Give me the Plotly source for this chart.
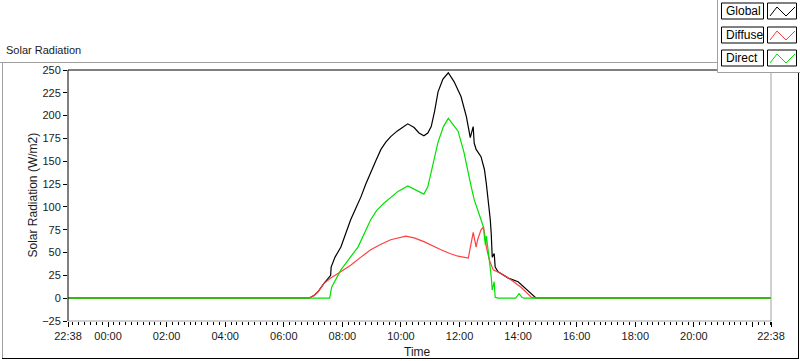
import plotly.graph_objects as go

# ---- data ----
DAY0 = "2024-01-01"
DAY1 = "2024-01-02"

global_times = ["06:51", "07:02", "07:10", "07:22", "07:36", "07:37", "07:45", "07:57", "08:07", "08:17",
                "08:28", "08:38", "08:48", "08:58", "09:09", "09:19", "09:29", "09:39", "09:52", "10:06",
                "10:14", "10:27", "10:37", "10:47", "10:55", "11:02", "11:09", "11:16", "11:26", "11:37",
                "11:49", "12:03", "12:14", "12:22", "12:28", "12:30", "12:34", "12:44", "12:51", "12:55",
                "12:59", "13:03", "13:05", "13:07", "13:11", "13:13", "13:19", "13:40", "14:00", "14:04",
                "14:21", "14:37", "14:44"]
global_vals = [0, 3, 7, 16, 25, 34, 45, 56, 72, 86,
               99, 111, 125, 138, 151, 163, 171, 177, 183, 188,
               191, 187, 181, 178, 181, 188, 205, 226, 240, 247,
               237, 221, 199, 176, 188, 170, 163, 155, 141, 125,
               108, 86, 70, 45, 49, 34, 29, 22, 18, 16,
               7, 0, 0]

diffuse_times = ["06:51", "07:02", "07:10", "07:22", "07:36", "07:51", "08:17", "08:38", "08:58", "09:19",
                 "09:39", "10:10", "10:27", "10:47", "11:05", "11:22", "11:40", "11:57", "12:18", "12:28",
                 "12:34", "12:37", "12:44", "12:49", "12:51", "12:55", "13:01", "13:09", "13:25", "13:46",
                 "14:06", "14:27", "14:37"]
diffuse_vals = [0, 3, 7, 16, 22, 27, 36, 45, 53, 59,
                64, 68, 66, 62, 57, 53, 49, 46, 44, 72,
                56, 64, 75, 78, 72, 56, 42, 31, 27, 20,
                12, 1, 0]

direct_times = ["07:34", "07:38", "07:57", "08:15", "08:32", "08:58", "09:10", "09:25", "09:54", "10:14",
                "10:35", "10:47", "10:55", "11:02", "11:16", "11:27", "11:37", "11:57", "12:09", "12:24",
                "12:30", "12:44", "12:49", "12:51", "12:53", "12:55", "12:59", "13:01", "13:05", "13:07",
                "13:11", "13:13", "13:19", "13:55", "14:02", "14:08", "14:12"]
direct_vals = [0, 12, 31, 44, 56, 86, 96, 104, 117, 123,
               117, 114, 122, 138, 171, 188, 197, 183, 160, 122,
               108, 86, 78, 67, 58, 68, 53, 42, 23, 9,
               18, 1, 0, 0, 5, 1, 0]

x_tick_vals = ["22:38", "00:00", "02:00", "04:00", "06:00", "08:00", "10:00", "12:00",
               "14:00", "16:00", "18:00", "20:00", "22:00", "22:38"]
x_tick_text = ["22:38", "00:00", "02:00", "04:00", "06:00", "08:00", "10:00", "12:00",
               "14:00", "16:00", "18:00", "20:00", "", "22:38"]
y_tick_vals = [-25, 0, 25, 50, 75, 100, 125, 150, 175, 200, 225, 250]

START = DAY0 + " 22:38"
END = DAY1 + " 22:38"


def full(times, vals):
    xs = [START] + [DAY1 + " " + t for t in times] + [END]
    ys = [0] + list(vals) + [0]
    return xs, ys


tick_dates = [START] + [DAY1 + " " + t for t in x_tick_vals[1:-1]] + [END]

FONT = "Liberation Sans"
TXT = "#1a1a1a"
fig = go.Figure()
for name, times, vals, color in [("Global", global_times, global_vals, "#000000"),
                                 ("Diffuse", diffuse_times, diffuse_vals, "#ff4040"),
                                 ("Direct", direct_times, direct_vals, "#00e000")]:
    xs, ys = full(times, vals)
    fig.add_trace(go.Scatter(x=xs, y=ys, mode="lines", name=name,
                             line=dict(color=color, width=1.2, shape="linear"),
                             showlegend=False, hoverinfo="skip"))

L, R, T, B = 68, 771, 70, 321
W, H = 800, 361
pw, ph = R - L, B - T


def px(xp):
    return (xp - L) / pw


def py(yp):
    return (B - yp) / ph


fig.update_layout(
    width=W, height=H,
    margin=dict(l=L, r=W - R, t=T, b=H - B, pad=0),
    paper_bgcolor="white", plot_bgcolor="white",
    font=dict(family=FONT, size=11, color=TXT),
    xaxis=dict(type="date", range=[START, END], showgrid=False, zeroline=False,
               tickmode="array", tickvals=tick_dates, ticktext=x_tick_text,
               ticks="outside", ticklen=5, tickcolor="black", tickwidth=1,
               minor=dict(dtick=12 * 60 * 1000, tick0=DAY1 + " 00:00", ticks="outside",
                          ticklen=3, tickcolor="black", tickwidth=1, showgrid=False),
               showline=False, tickfont=dict(size=11, family=FONT, color=TXT)),
    yaxis=dict(range=[-25, 250], showgrid=False, zeroline=False,
               tickmode="array", tickvals=y_tick_vals,
               ticks="outside", ticklen=4, tickcolor="black", tickwidth=1,
               showline=False, tickfont=dict(size=11, family=FONT, color=TXT)),
)

shapes = []
# plot area border: top/left dark, bottom/right light
shapes.append(dict(type="line", xref="paper", yref="paper", x0=0, x1=1, y0=1, y1=1,
                   line=dict(color="black", width=1)))
shapes.append(dict(type="line", xref="paper", yref="paper", x0=0, x1=0, y0=0, y1=1,
                   line=dict(color="black", width=1)))
shapes.append(dict(type="line", xref="paper", yref="paper", x0=0, x1=1, y0=0, y1=0,
                   line=dict(color="#a0a0a0", width=1)))
shapes.append(dict(type="line", xref="paper", yref="paper", x0=1, x1=1, y0=0, y1=1,
                   line=dict(color="#a0a0a0", width=1)))
# outer frame
shapes.append(dict(type="line", xref="paper", yref="paper", x0=px(0), x1=px(717), y0=py(62.5), y1=py(62.5),
                   line=dict(color="#a0a0a0", width=1)))
shapes.append(dict(type="line", xref="paper", yref="paper", x0=px(2.5), x1=px(2.5), y0=py(358.5), y1=py(62.5),
                   line=dict(color="#a0a0a0", width=1)))
shapes.append(dict(type="line", xref="paper", yref="paper", x0=px(2), x1=px(799), y0=py(358.5), y1=py(358.5),
                   line=dict(color="black", width=1)))
shapes.append(dict(type="line", xref="paper", yref="paper", x0=px(798.5), x1=px(798.5), y0=py(358.5), y1=py(72),
                   line=dict(color="black", width=1)))
# legend panel
shapes.append(dict(type="rect", xref="paper", yref="paper", x0=px(717.5), x1=px(801), y0=py(72.5), y1=py(-2),
                   line=dict(color="#a0a0a0", width=1), fillcolor="white"))

annotations = []
legend_items = [("Global", "#000000", 11), ("Diffuse", "#ff4040", 35), ("Direct", "#00e000", 58)]
for name, color, cy in legend_items:
    shapes.append(dict(type="rect", xref="paper", yref="paper", x0=px(721.5), x1=px(763.5),
                       y0=py(cy + 8), y1=py(cy - 8), line=dict(color="black", width=1), fillcolor="white"))
    shapes.append(dict(type="rect", xref="paper", yref="paper", x0=px(767.5), x1=px(796.5),
                       y0=py(cy + 8), y1=py(cy - 8), line=dict(color="black", width=1), fillcolor="white"))
    pts = [(770, cy + 5), (777, cy - 4), (786, cy + 5), (795, cy - 4)]
    path = "M " + " L ".join(f"{px(a):.5f},{py(b):.5f}" for a, b in pts)
    shapes.append(dict(type="path", xref="paper", yref="paper", path=path,
                       line=dict(color=color, width=1)))
    annotations.append(dict(text=name, xref="paper", yref="paper", x=px(724), y=py(cy),
                            xanchor="left", yanchor="middle", showarrow=False,
                            font=dict(family=FONT, size=12, color="black")))

annotations.append(dict(text="Solar Radiation", xref="paper", yref="paper", x=px(4), y=py(50),
                        xanchor="left", yanchor="middle", showarrow=False,
                        font=dict(family=FONT, size=11, color=TXT)))
annotations.append(dict(text="Solar Radiation (W/m2)", xref="paper", yref="paper", x=px(32), y=0.5,
                        xanchor="center", yanchor="middle", textangle=-90, showarrow=False,
                        font=dict(family=FONT, size=12, color=TXT)))
annotations.append(dict(text="Time", xref="paper", yref="paper", x=px(417), y=py(352),
                        xanchor="center", yanchor="middle", showarrow=False,
                        font=dict(family=FONT, size=12, color=TXT)))

fig.update_layout(shapes=shapes, annotations=annotations)
fig.write_html("out.html", config={"displayModeBar": False, "staticPlot": True},
               post_script="document.body.style.margin='0';document.body.style.overflow='hidden';")
